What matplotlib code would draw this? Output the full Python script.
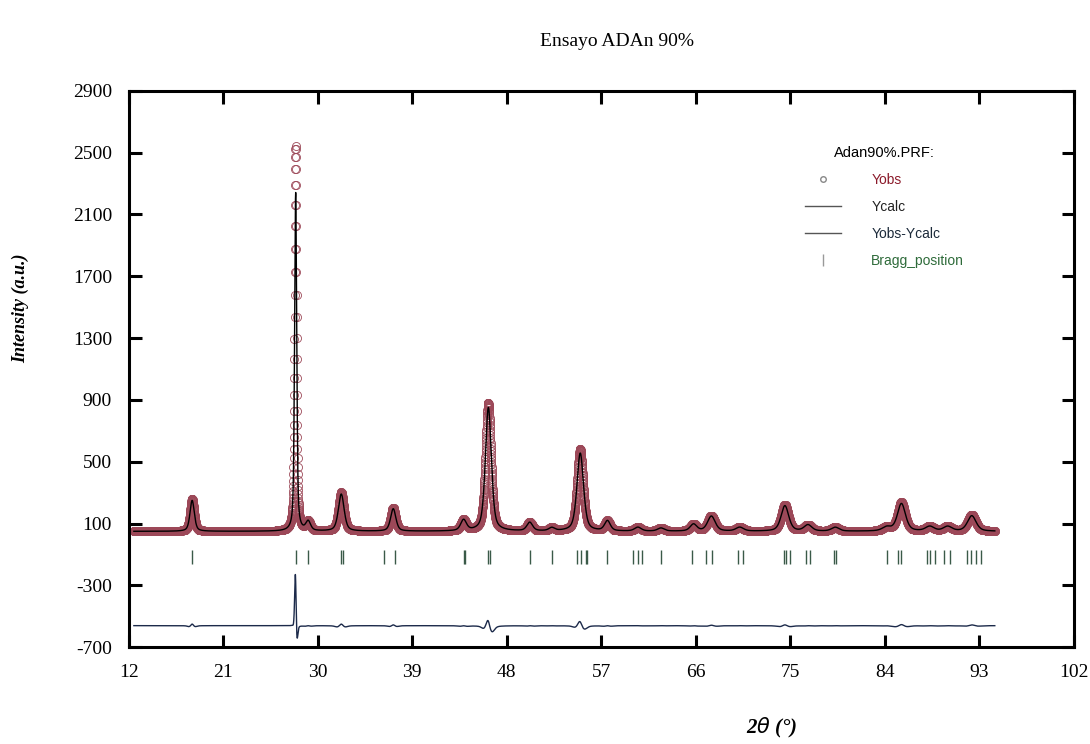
import numpy as np
import matplotlib.pyplot as plt
from matplotlib.lines import Line2D

plt.rcParams['axes.unicode_minus'] = False

# Peaks (2theta in deg, height above background, FWHM)
peak_pos = [18.05, 27.90, 29.10, 32.25, 37.20, 43.90, 46.25, 50.20, 52.30, 55.00,
            57.60, 60.50, 62.70, 65.80, 67.50, 70.20, 74.50, 76.70, 79.30, 84.20,
            85.60, 88.30, 90.00, 92.30]
obs_height = [210, 2490, 60, 250, 150, 70, 830, 55, 20, 530,
              65, 25, 20, 45, 100, 25, 170, 40, 25, 25,
              185, 30, 30, 105]
calc_height = [200, 2190, 60, 240, 145, 70, 800, 55, 20, 505,
               65, 25, 20, 45, 97, 25, 165, 40, 25, 25,
               178, 30, 30, 100]
peak_fwhm = [0.45, 0.22, 0.50, 0.60, 0.55, 0.60, 0.62, 0.60, 0.60, 0.68,
             0.60, 0.70, 0.70, 0.70, 0.80, 0.80, 0.80, 0.80, 0.80, 0.90,
             0.85, 0.90, 0.90, 0.90]
calc_shift = [0.0, 0.008, 0.0, 0.0, 0.0, 0.0, 0.01, 0.0, 0.0, 0.01,
              0.0, 0.0, 0.0, 0.0, 0.0, 0.0, 0.0, 0.0, 0.0, 0.0,
              0.0, 0.0, 0.0, 0.0]
background = 50
diff_offset = -560

bragg_pos = [18.06, 27.97, 29.08, 32.18, 32.40, 36.30, 37.35, 43.90, 44.06, 46.20,
             46.40, 50.20, 52.35, 54.70, 55.10, 55.60, 55.70, 57.60, 60.00, 60.50,
             60.90, 62.70, 65.70, 67.00, 67.60, 70.00, 70.50, 74.40, 74.60, 74.95,
             76.50, 76.90, 79.20, 79.40, 84.20, 85.30, 85.60, 88.00, 88.30, 88.80,
             89.70, 90.20, 91.80, 92.20, 92.70, 93.20]
bragg_y = -115

x_start, x_end, x_step = 12.5, 94.5, 0.01


def pvoigt(x, c, h, w, eta=0.5):
    g = np.exp(-4 * np.log(2) * ((x - c) / w) ** 2)
    l = 1 / (1 + 4 * ((x - c) / w) ** 2)
    return h * (eta * l + (1 - eta) * g)


tt = np.arange(x_start, x_end, x_step)
yobs = np.full_like(tt, background, dtype=float)
ycalc = np.full_like(tt, background, dtype=float)
for c, ho, hc, w, s in zip(peak_pos, obs_height, calc_height, peak_fwhm, calc_shift):
    yobs += pvoigt(tt, c, ho, w)
    ycalc += pvoigt(tt, c + s, hc, w * 1.08)
ydiff = yobs - ycalc + diff_offset

fig = plt.figure(figsize=(10.9, 7.44), dpi=100)
ax = fig.add_axes([0.118, 0.130, 0.867, 0.748])

obs_col = '#9c4858'
ax.plot(tt, yobs, 'o', ms=5.8, mfc='none', mec=obs_col, mew=0.6, zorder=2)
ax.plot(tt, ycalc, '-', color='black', lw=1.0, zorder=3)
ax.plot(tt, ydiff, '-', color='#1c2a4a', lw=1.0, zorder=3)
ax.plot(bragg_pos, [bragg_y] * len(bragg_pos), '|', ms=9.5, mew=1.0,
        color='#3a5a48', zorder=3)

ax.set_xlim(12, 102)
ax.set_ylim(-700, 2900)
ax.set_xticks(np.arange(12, 103, 9))
ax.set_yticks(np.arange(-700, 2901, 400))

for sp in ax.spines.values():
    sp.set_linewidth(2.2)
ax.tick_params(direction='in', length=9, width=2.2, top=True, right=True,
               labelsize=14, pad=12)
for lab in ax.get_xticklabels() + ax.get_yticklabels():
    lab.set_fontfamily('Liberation Serif')

fig.text(0.019, 0.586, 'Intensity (a.u.)', rotation=90, ha='center', va='center',
         family='Liberation Serif', style='italic', weight='bold', fontsize=13)
fig.text(0.708, 0.006, r'2$\theta$ (°)', ha='center', va='bottom',
         family='Liberation Serif', style='italic', weight='bold', fontsize=15)
fig.text(0.566, 0.944, 'Ensayo ADAn 90%', ha='center', va='center',
         family='Liberation Serif', fontsize=14)

handles = [
    Line2D([], [], ls='none', marker='o', ms=4, mfc='none', mec='#888888'),
    Line2D([], [], color='#555555', lw=1),
    Line2D([], [], color='#555555', lw=1),
    Line2D([], [], ls='none', marker='|', ms=9, color='#999999'),
]
labels = ['Yobs', 'Ycalc', 'Yobs-Ycalc', 'Bragg_position']
leg = ax.legend(handles, labels, title='Adan90%.PRF:', loc='upper left',
                bbox_to_anchor=(0.702, 0.924), frameon=False,
                prop={'family': 'Liberation Sans', 'size': 10},
                title_fontproperties={'family': 'Liberation Sans', 'size': 10.5},
                labelcolor=['#8b1a2a', '#222222', '#1c2a3a', '#2e6b3a'],
                handlelength=2.6, handletextpad=2.2, labelspacing=0.95)

fig.savefig('out.png', dpi=100)
